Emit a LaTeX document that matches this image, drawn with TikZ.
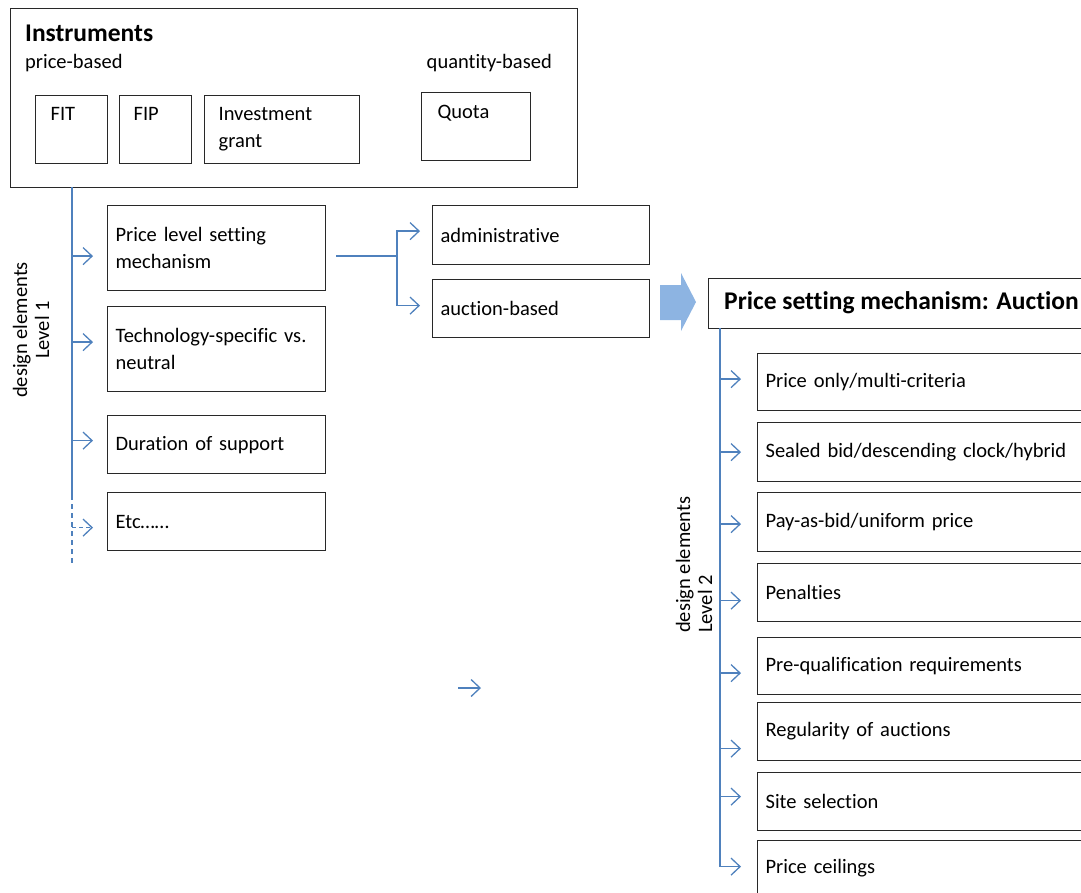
\documentclass[tikz,border=0pt]{standalone}
\usepackage{fontspec}
\setmainfont{Carlito}[Ligatures=NoCommon]
\usetikzlibrary{arrows.meta}
\definecolor{lineblue}{RGB}{79,129,189}
\definecolor{arrowblue}{RGB}{141,180,226}
\definecolor{boxgray}{RGB}{40,40,40}
\newcommand{\bodyfont}{\fontsize{20.5}{27}\selectfont}
\begin{document}
\begin{tikzpicture}[x=1pt,y=-1pt,
  frame/.style={draw=boxgray, line width=1.2pt, anchor=north west, inner sep=0pt},
  lbox/.style={draw=boxgray, line width=1.2pt, anchor=north west, inner xsep=8pt, inner ysep=0pt,
    minimum width=218pt, text width=202pt, align=left, font=\bodyfont},
  abox/.style={lbox, minimum width=217pt, text width=201pt},
  rbox/.style={lbox, minimum width=340pt, text width=324pt, minimum height=58pt},
  bl/.style={draw=lineblue, line width=1.4pt},
  barrow/.style={bl, -{Straight Barb[length=9pt,width=17pt,line width=1.3pt]}},
  plain/.style={inner sep=0pt, font=\fontsize{20.5}{22}\selectfont},
  ttl/.style={inner sep=0pt, font=\fontsize{25.5}{30}\selectfont\bfseries},
]
\useasboundingbox (0,0) rectangle (1081,892);
\clip (0,0) rectangle (1081,892);

% Instruments frame
\node[frame, minimum width=567pt, minimum height=179pt] (instr) at (10,8) {};
\node[ttl, anchor=west] (tinstr) at (25,33) {Instruments};
\node[plain, anchor=west] (tprice) at (25,63) {price-based};
\node[plain, anchor=east] (tquant) at (552,63) {quantity-based};

\node[frame] (fit) at (35,95) {\parbox[c][68pt][t]{72pt}{\bodyfont\vspace*{12pt}\hspace*{15pt}FIT}};
\node[frame] (fip) at (119,95) {\parbox[c][68pt][t]{72pt}{\bodyfont\vspace*{12pt}\hspace*{14pt}FIP}};
\node[frame] (inv) at (204,95) {\parbox[c][68pt][t]{155pt}{\bodyfont\vspace*{12pt}\leftskip=14pt Investment\\grant}};
\node[frame] (quota) at (421,92) {\parbox[c][68pt][t]{109pt}{\bodyfont\vspace*{13pt}\hspace*{16pt}Quota}};

% Level 1
\node[lbox, minimum height=85pt] (pls) at (107,205) {Price level setting\\mechanism};
\node[lbox, minimum height=85pt] (tech) at (107,306) {Technology-specific vs.\\neutral};
\node[lbox, minimum height=58pt] (dur) at (107,415) {Duration of support};
\node[lbox, minimum height=58pt] (etc) at (107,492) {Etc\dots\dots};

\coordinate (l1a) at (72,187);
\coordinate (l1b) at (72,495);
\coordinate (l1c) at (72,563);
\draw[bl] (l1a) -- (l1b);
\draw[bl, line width=1.1pt, dash pattern=on 5pt off 4pt] (l1b) -- (l1c);
\draw[barrow, shorten >=14pt] ([yshift=-8pt]l1a |- pls.west) -- ([yshift=-8pt]pls.west);
\draw[barrow, shorten >=14pt] ([yshift=7pt]l1a |- tech.west) -- ([yshift=7pt]tech.west);
\draw[barrow, shorten >=14pt] ([yshift=4pt]l1a |- dur.west) -- ([yshift=4pt]dur.west);
\draw[barrow, shorten >=14pt, dash pattern=on 4pt off 3pt] ([yshift=-6pt]l1a |- etc.west) -- ([yshift=-6pt]etc.west);

\node[plain, rotate=90, align=center, anchor=center] (lab1) at (31,330) {design elements\\Level 1};

% Branch
\node[abox, minimum height=59pt] (adm) at (432,205) {administrative};
\node[abox, minimum height=58pt] (auc) at (432,279) {auction-based};
\coordinate (br) at (397,255);
\draw[bl] ([xshift=10pt,yshift=-8pt]pls.east) -- ([yshift=-8pt]br |- pls.east);
\draw[barrow, shorten >=12pt] ([yshift=-8pt]br |- pls.east) |- ([yshift=4pt]adm.west);
\draw[barrow, shorten >=12pt] ([yshift=-8pt]br |- pls.east) |- ([yshift=3pt]auc.west);

% Big arrow
\fill[arrowblue] (660,285) -- (681,285) -- (681,273) -- (696,302) -- (681,331) -- (681,320) -- (660,320) -- cycle;

% Level 2
\node[frame, minimum width=380pt, minimum height=50pt] (psm) at (708,278) {};
\node[ttl, anchor=west] (tpsm) at (724,303) {Price setting mechanism: Auction};

\node[rbox, minimum height=57pt] (r1) at (757,353) {Price only/multi-criteria};
\node[rbox, minimum height=59pt] (r2) at (757,422) {Sealed bid/descending clock/hybrid};
\node[rbox, minimum height=59pt] (r3) at (757,492) {Pay-as-bid/uniform price};
\node[rbox, minimum height=58pt] (r4) at (757,563) {Penalties};
\node[rbox, minimum height=57pt] (r5) at (757,637) {Pre-qualification requirements};
\node[rbox, minimum height=58pt] (r6) at (757,702) {Regularity of auctions};
\node[rbox, minimum height=58pt] (r7) at (757,772) {Site selection};
\node[rbox, minimum height=56pt] (r8) at (757,840) {Price ceilings};

\coordinate (l2a) at (720,328);
\draw[bl] (l2a) -- (720,855);
\draw[barrow, shorten >=16pt] ([yshift=3pt]l2a |- r1.west) -- ([yshift=3pt]r1.west);
\draw[barrow, shorten >=16pt] (l2a |- r2.west) -- (r2.west);
\draw[barrow, shorten >=16pt] ([yshift=-2pt]l2a |- r3.west) -- ([yshift=-2pt]r3.west);
\draw[barrow, shorten >=16pt] ([yshift=-8pt]l2a |- r4.west) -- ([yshift=-8pt]r4.west);
\draw[barrow, shorten >=16pt] ([yshift=-7pt]l2a |- r5.west) -- ([yshift=-7pt]r5.west);
\draw[barrow, shorten >=16pt] ([yshift=-17pt]l2a |- r6.west) -- ([yshift=-17pt]r6.west);
\draw[barrow, shorten >=16pt] ([yshift=5pt]l2a |- r7.west) -- ([yshift=5pt]r7.west);
\draw[barrow, shorten >=16pt] (l2a) |- ([yshift=2pt]r8.west);

\node[plain, rotate=90, align=left, anchor=west] (lab2) at (694,633) {design elements\\Level 2};

% stray arrow
\coordinate (sa) at (458,688);
\coordinate (sb) at (481,688);
\draw[barrow] (sa) -- (sb);
\end{tikzpicture}
\end{document}
